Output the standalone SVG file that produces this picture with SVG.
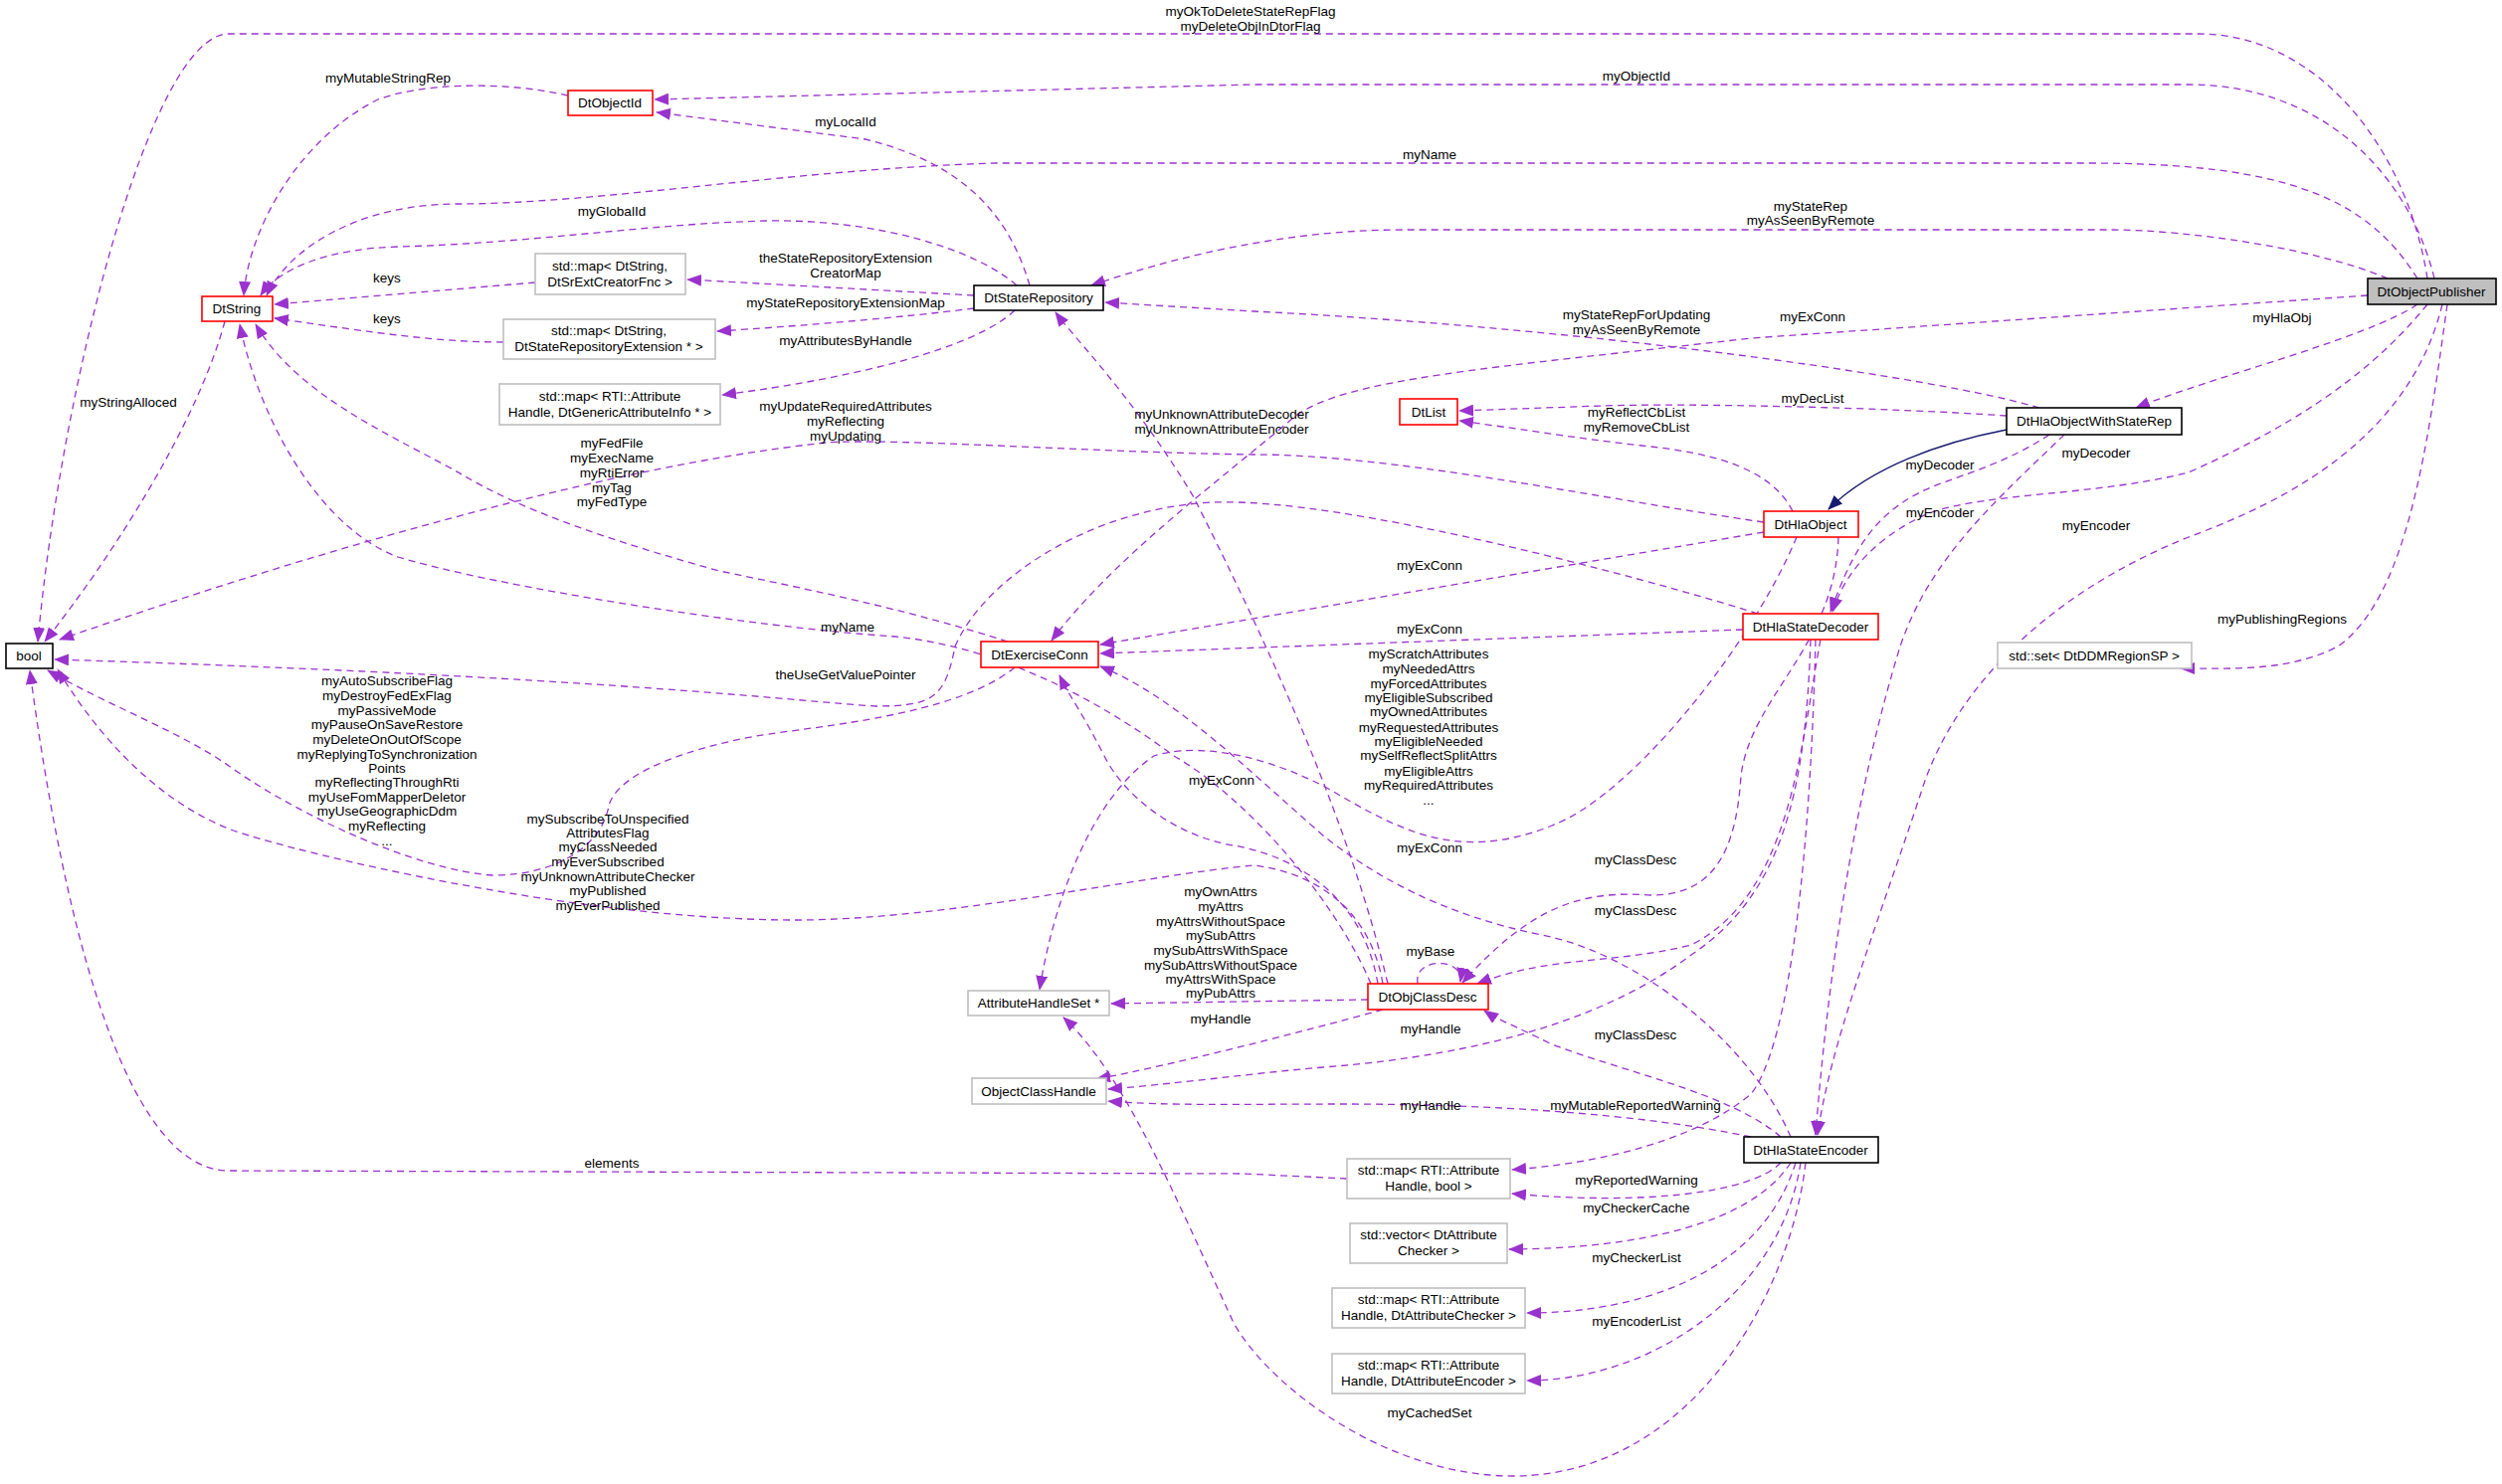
<svg xmlns="http://www.w3.org/2000/svg" width="2515" height="1492" viewBox="0 0 2515 1492">
<style>
text{font-family:"Liberation Sans",Arial,sans-serif;font-size:13.5px;fill:#000;text-anchor:middle}
.n rect{fill:#fff;stroke:#000;stroke-width:1.6}
.r rect{stroke:#ff0000}
.g rect{stroke:#bfbfbf}
.e path{fill:none;stroke:#9a32cd;stroke-width:1.3;stroke-dasharray:7,5;marker-end:url(#a)}
.e path.inh{stroke:#191970;stroke-dasharray:none;marker-end:url(#b)}
</style>
<defs>
<marker id="a" markerUnits="userSpaceOnUse" markerWidth="16" markerHeight="12" refX="14" refY="6" orient="auto"><path d="M0,0L15,6L0,12z" fill="#9a32cd"/></marker>
<marker id="b" markerUnits="userSpaceOnUse" markerWidth="16" markerHeight="12" refX="14" refY="6" orient="auto"><path d="M0,0L15,6L0,12z" fill="#191970"/></marker>
</defs>
<rect width="2515" height="1492" fill="#fff"/>
<g class="e" id="edges">
<path d="M2440,280 C2420,150 2330,34 2210,34 L230,34 C150,34 60,400 38,645"/>
<path d="M2447,280 C2420,170 2330,85 2200,85 L1260,85 L658,100"/>
<path d="M2430,280 C2380,200 2300,164 2100,164 L1000,164 C800,170 600,205 460,205 C360,205 290,250 268,297"/>
<path d="M2400,280 C2330,250 2200,231 2120,231 L1410,231 C1300,231 1190,255 1097,287"/>
<path d="M2380,297 L1760,340 C1500,370 1350,380 1300,420 C1230,480 1120,560 1057,644"/>
<path d="M2050,410 C1950,380 1600,330 1260,313 L1111,304"/>
<path d="M2430,306 C2380,340 2220,380 2147,410"/>
<path d="M2017,418 C1900,410 1700,405 1610,408 L1467,413"/>
<path d="M1802,514 C1780,470 1720,455 1650,448 C1580,440 1520,430 1467,423"/>
<path class="inh" d="M2017,432 C1950,445 1880,470 1838,512"/>
<path d="M2060,437 C2010,470 1960,480 1930,495 C1880,520 1860,560 1840,615"/>
<path d="M2440,306 C2380,380 2300,430 2200,475 C2100,500 1980,495 1930,520 C1870,550 1850,590 1842,615"/>
<path d="M2075,437 C2010,500 1940,560 1910,650 C1870,780 1840,950 1825,1141"/>
<path d="M2455,306 C2420,450 2280,510 2200,540 C2050,600 1960,700 1930,800 C1880,950 1840,1050 1827,1141"/>
<path d="M2460,306 C2440,450 2420,600 2350,650 C2300,675 2250,672 2192,672"/>
<path d="M1035,287 C1010,200 950,160 870,140 L660,113"/>
<path d="M1022,287 C980,250 880,220 770,222 C650,225 530,245 400,248 C330,250 280,270 262,297"/>
<path d="M979,297 L691,281"/>
<path d="M979,310 C900,320 800,328 721,333"/>
<path d="M1020,312 C980,350 860,380 726,397"/>
<path d="M538,284 L276,306"/>
<path d="M506,344 C440,344 380,335 276,320"/>
<path d="M571,96 C500,80 420,85 380,100 C300,140 250,230 245,297"/>
<path d="M226,323 C200,420 120,550 45,645"/>
<path d="M1773,525 C1600,500 1400,457 1260,457 C1100,455 900,440 830,445 C600,470 300,560 60,643"/>
<path d="M1013,645 C924,617 850,600 723,574 C600,540 520,510 466,478 C400,440 300,400 257,326"/>
<path d="M1378,989 C1340,900 1250,800 1180,760 C1100,700 1000,650 900,640 C750,630 500,590 400,560 C320,530 260,420 241,326"/>
<path d="M1767,617 C1650,580 1350,500 1220,505 C1100,510 990,580 960,650 C950,700 940,710 880,710 C800,705 600,680 55,663"/>
<path d="M1020,671 C960,720 820,730 760,740 C680,755 620,780 612,810 C605,850 560,880 495,880 C420,875 300,820 230,770 C180,735 110,710 48,674"/>
<path d="M1390,989 C1380,930 1340,880 1260,870 C1150,880 950,925 800,925 C600,925 350,870 250,840 C180,820 110,760 58,673"/>
<path d="M1354,1185 L1250,1180 L230,1177 C120,1177 60,900 30,674"/>
<path d="M1773,535 L1106,648"/>
<path d="M1752,633 L1106,657"/>
<path d="M1385,989 C1370,900 1300,860 1240,850 C1180,840 1130,800 1110,760 C1090,720 1075,700 1065,679"/>
<path d="M1800,1143 C1760,1050 1650,960 1550,940 C1450,920 1380,880 1330,840 C1250,770 1180,700 1106,670"/>
<path d="M1395,989 C1350,800 1250,600 1200,500 C1140,400 1080,340 1061,314"/>
<path d="M1375,1005 L1117,1009"/>
<path d="M1815,1169 C1800,1300 1700,1484 1520,1484 C1400,1484 1280,1400 1240,1330 C1180,1200 1130,1080 1069,1023"/>
<path d="M1806,540 C1760,650 1640,800 1560,830 C1460,870 1400,830 1330,790 C1250,750 1190,750 1160,760 C1100,800 1060,900 1045,995"/>
<path d="M1390,1015 C1300,1040 1180,1070 1102,1085"/>
<path d="M1820,643 C1815,800 1790,900 1700,960 C1620,1020 1500,1060 1330,1073 C1250,1080 1180,1090 1114,1095"/>
<path d="M1760,1143 C1650,1120 1500,1110 1350,1110 C1250,1110 1170,1112 1114,1107"/>
<path d="M1425,989 C1420,962 1472,962 1468,987"/>
<path d="M1848,540 C1845,650 1760,700 1750,780 C1745,860 1720,900 1660,900 C1590,895 1540,910 1470,988"/>
<path d="M1830,643 C1810,750 1800,900 1700,950 C1620,970 1560,960 1485,989"/>
<path d="M1790,1143 C1740,1100 1640,1080 1560,1050 C1520,1030 1505,1025 1492,1016"/>
<path d="M1825,643 C1820,850 1800,1050 1760,1100 C1700,1150 1600,1170 1520,1176"/>
<path d="M1790,1169 C1760,1200 1650,1212 1520,1200"/>
<path d="M1800,1169 C1760,1230 1650,1255 1517,1256"/>
<path d="M1805,1169 C1770,1280 1650,1320 1535,1320"/>
<path d="M1810,1169 C1790,1300 1660,1388 1535,1388"/>
</g>
<g id="labels">
<text x="1257" y="16">myOkToDeleteStateRepFlag</text><text x="1257" y="31">myDeleteObjInDtorFlag</text>
<text x="390" y="83">myMutableStringRep</text>
<text x="1645" y="81">myObjectId</text>
<text x="850" y="127">myLocalId</text>
<text x="1437" y="160">myName</text>
<text x="615" y="217">myGlobalId</text>
<text x="1820" y="212">myStateRep</text><text x="1820" y="226">myAsSeenByRemote</text>
<text x="850" y="264">theStateRepositoryExtension</text><text x="850" y="279">CreatorMap</text>
<text x="389" y="284">keys</text><text x="389" y="325">keys</text>
<text x="850" y="309">myStateRepositoryExtensionMap</text>
<text x="1645" y="321">myStateRepForUpdating</text><text x="1645" y="336">myAsSeenByRemote</text>
<text x="1822" y="323">myExConn</text>
<text x="2294" y="324">myHlaObj</text>
<text x="850" y="347">myAttributesByHandle</text>
<text x="1822" y="405">myDecList</text>
<text x="1645" y="419">myReflectCbList</text><text x="1645" y="434">myRemoveCbList</text>
<text x="129" y="409">myStringAlloced</text>
<text x="850" y="413">myUpdateRequiredAttributes</text><text x="850" y="428">myReflecting</text><text x="850" y="443">myUpdating</text>
<text x="1228" y="421">myUnknownAttributeDecoder</text><text x="1228" y="436">myUnknownAttributeEncoder</text>
<text x="615" y="450">myFedFile</text><text x="615" y="465">myExecName</text><text x="615" y="480">myRtiError</text><text x="615" y="495">myTag</text><text x="615" y="509">myFedType</text>
<text x="1950" y="472">myDecoder</text><text x="2107" y="460">myDecoder</text>
<text x="1950" y="520">myEncoder</text><text x="2107" y="533">myEncoder</text>
<text x="1437" y="573">myExConn</text><text x="1437" y="637">myExConn</text>
<text x="2294" y="627">myPublishingRegions</text>
<text x="852" y="635">myName</text>
<text x="850" y="683">theUseGetValuePointer</text>
<text x="389" y="689">myAutoSubscribeFlag</text><text x="389" y="704">myDestroyFedExFlag</text><text x="389" y="719">myPassiveMode</text><text x="389" y="733">myPauseOnSaveRestore</text><text x="389" y="748">myDeleteOnOutOfScope</text><text x="389" y="763">myReplyingToSynchronization</text><text x="389" y="777">Points</text><text x="389" y="791">myReflectingThroughRti</text><text x="389" y="806">myUseFomMapperDeletor</text><text x="389" y="820">myUseGeographicDdm</text><text x="389" y="835">myReflecting</text><text x="389" y="850">...</text>
<text x="1436" y="662">myScratchAttributes</text><text x="1436" y="677">myNeededAttrs</text><text x="1436" y="692">myForcedAttributes</text><text x="1436" y="706">myEligibleSubscribed</text><text x="1436" y="720">myOwnedAttributes</text><text x="1436" y="736">myRequestedAttributes</text><text x="1436" y="750">myEligibleNeeded</text><text x="1436" y="764">mySelfReflectSplitAttrs</text><text x="1436" y="780">myEligibleAttrs</text><text x="1436" y="794">myRequiredAttributes</text><text x="1436" y="809">...</text>
<text x="1228" y="789">myExConn</text>
<text x="611" y="828">mySubscribeToUnspecified</text><text x="611" y="842">AttributesFlag</text><text x="611" y="856">myClassNeeded</text><text x="611" y="871">myEverSubscribed</text><text x="611" y="886">myUnknownAttributeChecker</text><text x="611" y="900">myPublished</text><text x="611" y="915">myEverPublished</text>
<text x="1437" y="857">myExConn</text>
<text x="1644" y="869">myClassDesc</text><text x="1644" y="920">myClassDesc</text><text x="1644" y="1045">myClassDesc</text>
<text x="1227" y="901">myOwnAttrs</text><text x="1227" y="916">myAttrs</text><text x="1227" y="931">myAttrsWithoutSpace</text><text x="1227" y="945">mySubAttrs</text><text x="1227" y="960">mySubAttrsWithSpace</text><text x="1227" y="975">mySubAttrsWithoutSpace</text><text x="1227" y="989">myAttrsWithSpace</text><text x="1227" y="1003">myPubAttrs</text>
<text x="1438" y="961">myBase</text>
<text x="1227" y="1029">myHandle</text><text x="1438" y="1039">myHandle</text><text x="1438" y="1116">myHandle</text>
<text x="1644" y="1116">myMutableReportedWarning</text>
<text x="615" y="1174">elements</text>
<text x="1645" y="1191">myReportedWarning</text>
<text x="1645" y="1219">myCheckerCache</text>
<text x="1645" y="1269">myCheckerList</text>
<text x="1645" y="1333">myEncoderList</text>
<text x="1437" y="1425">myCachedSet</text>
</g>
<g id="DtObjectPublisher" class="n"><rect x="2380" y="280" width="129" height="26" style="fill:#bfbfbf"/><text x="2444" y="298">DtObjectPublisher</text></g>
<g id="DtObjectId" class="n r"><rect x="571" y="91" width="85" height="25"/><text x="613" y="108">DtObjectId</text></g>
<g id="DtString" class="n r"><rect x="203" y="298" width="71" height="25"/><text x="238" y="315">DtString</text></g>
<g id="mapCreator" class="n g"><rect x="538" y="255" width="151" height="41"/><text x="613" y="272">std::map&lt; DtString,</text><text x="613" y="288">DtSrExtCreatorFnc &gt;</text></g>
<g id="mapExt" class="n g"><rect x="506" y="321" width="213" height="40"/><text x="612" y="337">std::map&lt; DtString,</text><text x="612" y="353">DtStateRepositoryExtension * &gt;</text></g>
<g id="mapAttrInfo" class="n g"><rect x="502" y="386" width="222" height="41"/><text x="613" y="403">std::map&lt; RTI::Attribute</text><text x="613" y="419">Handle, DtGenericAttributeInfo * &gt;</text></g>
<g id="DtStateRepository" class="n"><rect x="979" y="287" width="130" height="25"/><text x="1044" y="304">DtStateRepository</text></g>
<g id="bool" class="n"><rect x="6" y="647" width="47" height="25"/><text x="29" y="664">bool</text></g>
<g id="DtExerciseConn" class="n r"><rect x="986" y="645" width="118" height="26"/><text x="1045" y="663">DtExerciseConn</text></g>
<g id="DtList" class="n r"><rect x="1407" y="401" width="58" height="26"/><text x="1436" y="419">DtList</text></g>
<g id="DtHlaObjectWithStateRep" class="n"><rect x="2017" y="410" width="176" height="27"/><text x="2105" y="428">DtHlaObjectWithStateRep</text></g>
<g id="DtHlaObject" class="n r"><rect x="1773" y="514" width="95" height="26"/><text x="1820" y="532">DtHlaObject</text></g>
<g id="DtHlaStateDecoder" class="n r"><rect x="1752" y="617" width="136" height="26"/><text x="1820" y="635">DtHlaStateDecoder</text></g>
<g id="setRegion" class="n g"><rect x="2008" y="646" width="195" height="26"/><text x="2105" y="664">std::set&lt; DtDDMRegionSP &gt;</text></g>
<g id="AttributeHandleSet" class="n g"><rect x="973" y="996" width="142" height="25"/><text x="1044" y="1013">AttributeHandleSet *</text></g>
<g id="ObjectClassHandle" class="n g"><rect x="977" y="1084" width="135" height="26"/><text x="1044" y="1102">ObjectClassHandle</text></g>
<g id="DtObjClassDesc" class="n r"><rect x="1375" y="989" width="121" height="26"/><text x="1435" y="1007">DtObjClassDesc</text></g>
<g id="DtHlaStateEncoder" class="n"><rect x="1753" y="1143" width="135" height="26"/><text x="1820" y="1161">DtHlaStateEncoder</text></g>
<g id="mapBool" class="n g"><rect x="1354" y="1165" width="164" height="40"/><text x="1436" y="1181">std::map&lt; RTI::Attribute</text><text x="1436" y="1197">Handle, bool &gt;</text></g>
<g id="vecChecker" class="n g"><rect x="1357" y="1230" width="158" height="40"/><text x="1436" y="1246">std::vector&lt; DtAttribute</text><text x="1436" y="1262">Checker &gt;</text></g>
<g id="mapChecker" class="n g"><rect x="1339" y="1295" width="194" height="40"/><text x="1436" y="1311">std::map&lt; RTI::Attribute</text><text x="1436" y="1327">Handle, DtAttributeChecker &gt;</text></g>
<g id="mapEncoder" class="n g"><rect x="1339" y="1361" width="194" height="40"/><text x="1436" y="1377">std::map&lt; RTI::Attribute</text><text x="1436" y="1393">Handle, DtAttributeEncoder &gt;</text></g>
</svg>
